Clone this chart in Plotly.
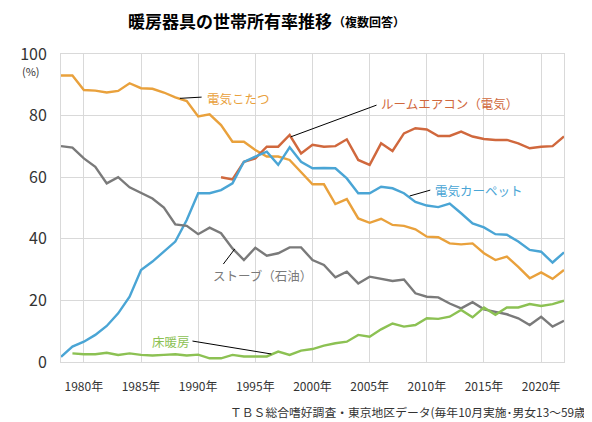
import plotly.graph_objects as go

years = list(range(1978, 2023))

kotatsu = [93.0, 93.0, 88.3, 88.1, 87.5, 88.0, 90.5, 88.9, 88.7, 87.5, 85.9, 84.7,
           79.7, 80.4, 76.9, 71.5, 71.5, 68.8, 66.7, 66.7, 65.6, 61.8,
           57.7, 57.7, 51.3, 52.9, 46.6, 45.2, 46.5, 44.5, 44.2, 43.1,
           40.7, 40.5, 38.5, 38.2, 38.5, 35.3, 33.1, 34.2, 30.9, 27.2,
           29.1, 27.0, 29.9]

aircon = [None] * 14 + [60.0, 59.3, 65.0, 66.1, 69.9, 69.9, 73.7, 67.7,
                        70.5, 69.9, 70.1, 72.3, 65.6, 64.0, 71.0, 68.5, 74.2, 75.9,
                        75.5, 73.4, 73.4, 74.8, 73.2, 72.4, 72.1, 72.1, 71.0, 69.4,
                        69.9, 70.1, 73.2]

carpet = [1.7, 5.0, 6.6, 8.8, 11.7, 15.8, 21.2, 29.9, 32.6, 35.8, 39.1, 46.1,
          54.8, 54.8, 55.8, 58.0, 65.0, 66.7, 68.3, 64.0, 69.7, 65.0,
          62.9, 63.0, 62.9, 59.6, 54.8, 54.8, 56.9, 56.4, 54.8, 52.0,
          50.8, 50.3, 51.4, 48.3, 45.0, 43.7, 41.5, 41.3, 39.1, 36.4,
          35.8, 32.3, 35.6]

stove = [70.1, 69.6, 66.1, 63.4, 58.0, 60.0, 56.7, 55.0, 53.1, 50.1, 44.7, 44.2,
         41.5, 43.6, 41.8, 36.9, 33.1, 37.1, 34.5, 35.3, 37.2, 37.2,
         33.1, 31.5, 27.5, 29.3, 25.5, 27.7, 27.0, 26.3, 26.8, 22.3,
         21.2, 21.0, 19.0, 17.4, 19.4, 17.1, 16.3, 15.5, 14.2, 12.0,
         14.7, 11.5, 13.4]

floorheat = [None, 2.8, 2.5, 2.5, 3.0, 2.3, 2.8, 2.3, 2.1, 2.3, 2.5, 2.1,
             2.4, 1.2, 1.2, 2.3, 1.8, 1.8, 1.8, 3.4, 2.3, 3.7,
             4.2, 5.3, 6.1, 6.6, 8.8, 8.2, 10.6, 12.5, 11.5, 12.0,
             14.2, 14.0, 14.7, 16.9, 14.5, 17.7, 15.3, 17.7, 17.7, 18.8,
             18.2, 18.8, 19.9]

tick_years = [1980, 1985, 1990, 1995, 2000, 2005, 2010, 2015, 2020]
tick_year_labels = [f"{y}年" for y in tick_years]
y_ticks = [0, 20, 40, 60, 80, 100]
y_tick_labels = ["0", "20", "40", "60", "80", "100"]

FONT = "Noto Sans CJK JP"
C_KOTATSU = "#E9A13C"
C_AIRCON = "#D0683D"
C_CARPET = "#4AA5D5"
C_STOVE = "#7A7A7A"
C_FLOOR = "#8CC153"
GRID = "#D9D9D9"

fig = go.Figure()
series = [
    ("電気こたつ", kotatsu, C_KOTATSU),
    ("ルームエアコン（電気）", aircon, C_AIRCON),
    ("電気カーペット", carpet, C_CARPET),
    ("ストーブ（石油）", stove, C_STOVE),
    ("床暖房", floorheat, C_FLOOR),
]
for name, vals, col in series:
    fig.add_trace(go.Scatter(x=years, y=vals, mode="lines", name=name,
                             line=dict(color=col, width=2.4), connectgaps=False))

# labels with leader lines (data coordinates)
labels = [
    ("電気こたつ", C_KOTATSU, 1990.6, 85.7, 1988.4, 85.6, 1990.3, 86.0),
    ("ルームエアコン（電気）", C_AIRCON, 2005.8, 83.8, 1998.1, 73.1, 2005.6, 83.4),
    ("電気カーペット", C_CARPET, 2010.5, 55.8, 2008.5, 53.9, 2010.3, 55.8),
    ("ストーブ（石油）", C_STOVE, 1991.1, 28.2, 1993.2, 36.7, 1992.2, 31.8),
    ("床暖房", C_FLOOR, 1985.8, 6.5, 1989.5, 6.8, 1996.4, 2.6),
]
for text, col, tx, ty, x0, y0, x1, y1 in labels:
    fig.add_annotation(x=tx, y=ty, text=text, showarrow=False, xanchor="left",
                       yanchor="middle", font=dict(family=FONT, size=12.5, color=col))
    fig.add_shape(type="line", x0=x0, y0=y0, x1=x1, y1=y1, xref="x", yref="y",
                  line=dict(color="#000000", width=1))

# title
fig.add_annotation(xref="paper", yref="paper", x=0.5435, y=1.11, xanchor="right",
                   yanchor="middle", showarrow=False,
                   text="<b>暖房器具の世帯所有率推移</b>",
                   font=dict(family=FONT, size=17, color="#000000"))
fig.add_annotation(xref="paper", yref="paper", x=0.537, y=1.105, xanchor="left",
                   yanchor="middle", showarrow=False,
                   text="<b>（複数回答）</b>",
                   font=dict(family=FONT, size=12, color="#000000"))
# (%) unit
fig.add_annotation(xref="paper", yref="paper", x=-0.038, y=0.944, xanchor="right",
                   yanchor="middle", showarrow=False, text="(%)",
                   font=dict(family=FONT, size=11, color="#333333"))
# source
fig.add_annotation(xref="paper", yref="paper", x=(219 - 47) / 517, y=-0.162,
                   xanchor="left", yanchor="middle", showarrow=False,
                   text="ＴＢＳ総合嗜好調査・東京地区データ(毎年10月実施･男女13〜59歳)",
                   font=dict(family=FONT, size=11.8, color="#333333"))

# the page body has an 8px margin, so the figure is drawn at (8, 8)
fig.update_layout(
    width=584, height=414,
    margin=dict(l=39, r=28, t=46, b=60),
    paper_bgcolor="white", plot_bgcolor="white",
    showlegend=False,
    font=dict(family=FONT, color="#333333"),
)
fig.update_xaxes(range=[1978, 2022], tickvals=tick_years, ticktext=tick_year_labels,
                 showgrid=True, gridcolor=GRID, gridwidth=1, zeroline=False,
                 showline=True, linecolor=GRID, linewidth=1, mirror=True,
                 ticks="", ticklabelstandoff=14,
                 tickfont=dict(family=FONT, size=12, color="#333333"))
fig.update_yaxes(range=[0, 100], tickvals=y_ticks, ticktext=y_tick_labels,
                 showgrid=True, gridcolor=GRID, gridwidth=1, zeroline=False,
                 showline=True, linecolor=GRID, linewidth=1, mirror=True,
                 ticks="", ticklabelstandoff=10,
                 tickfont=dict(family=FONT, size=16, color="#333333"))

fig.write_html("out.html")
